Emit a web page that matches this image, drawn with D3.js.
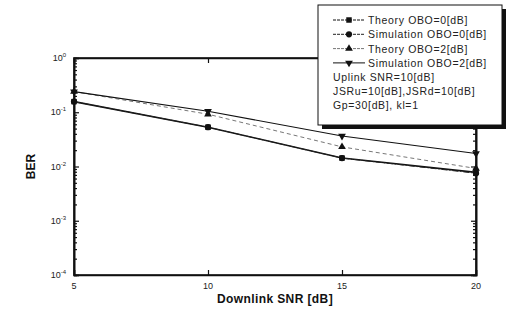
<!DOCTYPE html>
<html>
<head>
<meta charset="utf-8">
<script src="https://cdn.jsdelivr.net/npm/d3@7"></script>
<style>
body{margin:0;background:#fff;}
svg{font-family:"Liberation Sans",Arial,sans-serif;}
</style>
</head>
<body>
<svg id="chart" width="512" height="315"></svg>
<script>
// data
let snr = [5, 10, 15, 20];
let theoryObo0 = [0.157, 0.053, 0.0143, 0.0078];
let simObo0 = [0.157, 0.053, 0.0143, 0.0075];
let theoryObo2 = [0.24, 0.092, 0.023, 0.0092];
let simObo2 = [0.24, 0.104, 0.0366, 0.0174];
let seriesNames = ['Theory OBO=0[dB]', 'Simulation OBO=0[dB]', 'Theory OBO=2[dB]', 'Simulation OBO=2[dB]'];
let notes = ['Uplink SNR=10[dB]', 'JSRu=10[dB],JSRd=10[dB]', 'Gp=30[dB], kl=1'];
let yExps = [0, -1, -2, -3, -4];

let svg = d3.select('#chart');
let margin = {top: 58, right: 36, bottom: 40, left: 74};
let width = 512 - margin.left - margin.right;
let height = 315 - margin.top - margin.bottom;
let g = svg.append('g').attr('transform', 'translate(' + margin.left + ',' + margin.top + ')');

let x = d3.scaleLinear().domain([5, 20]).range([0, width]);
let y = d3.scaleLog().domain([1e-4, 1]).range([height, 0]);

let series = [
	{name: seriesNames[0], vals: theoryObo0, sym: d3.symbolSquare, dash: null, w: 1.6, col: '#111', size: 30},
	{name: seriesNames[1], vals: simObo0, sym: d3.symbolCircle, dash: '6,2,1,2', w: 1, col: '#222', size: 30},
	{name: seriesNames[2], vals: theoryObo2, sym: d3.symbolTriangle, dash: '4,3', w: 1, col: '#777', size: 26},
	{name: seriesNames[3], vals: simObo2, sym: d3.symbolTriangle, dash: null, w: 1.1, col: '#111', size: 26, flip: true}
];

// minor log ticks
let minors = [];
for (let e = -4; e < 0; e++) for (let k = 2; k <= 9; k++) minors.push(k * Math.pow(10, e));

g.append('g').call(d3.axisRight(y).tickValues(yExps.map(e => Math.pow(10, e))).tickSize(5).tickFormat(''));
g.append('g').call(d3.axisRight(y).tickValues(minors).tickSize(3).tickFormat(''));
g.append('g').attr('transform', 'translate(' + width + ',0)')
	.call(d3.axisLeft(y).tickValues(yExps.map(e => Math.pow(10, e))).tickSize(5).tickFormat(''));
g.append('g').attr('transform', 'translate(' + width + ',0)')
	.call(d3.axisLeft(y).tickValues(minors).tickSize(3).tickFormat(''));
g.append('g').attr('transform', 'translate(0,' + height + ')')
	.call(d3.axisTop(x).tickValues(snr).tickSize(5).tickFormat(''));
g.append('g').call(d3.axisBottom(x).tickValues(snr).tickSize(5).tickFormat(''));
g.selectAll('.domain').attr('stroke', '#111').attr('stroke-width', 1.6);
g.selectAll('.tick line').attr('stroke', '#111').attr('stroke-width', 1.2);

// frame
g.append('rect').attr('width', width).attr('height', height)
	.attr('fill', 'none').attr('stroke', '#111').attr('stroke-width', 1.6);

// tick labels
g.selectAll('.xl').data(snr).enter().append('text')
	.attr('x', d => x(d)).attr('y', height + 14)
	.attr('text-anchor', 'middle').style('font-size', '9px').attr('fill', '#222')
	.text(d => d);

let yl = g.selectAll('.yl').data(yExps).enter().append('text')
	.attr('x', -8).attr('y', d => y(Math.pow(10, d)) + 3)
	.attr('text-anchor', 'end').style('font-size', '9px').attr('fill', '#222');
yl.append('tspan').text('10');
yl.append('tspan').attr('dy', -4).style('font-size', '6px').text(d => d);

// axis titles
svg.append('text').attr('x', margin.left + width / 2).attr('y', 303)
	.attr('text-anchor', 'middle').style('font-size', '12px').style('font-weight', 'bold')
	.style('letter-spacing', '0.4px').attr('fill', '#111').text('Downlink SNR [dB]');
svg.append('text').attr('transform', 'translate(35,' + (margin.top + height / 2) + ') rotate(-90)')
	.attr('text-anchor', 'middle').style('font-size', '12px').style('font-weight', 'bold')
	.attr('fill', '#111').text('BER');

// lines + markers
let line = d3.line().x((d, i) => x(snr[i])).y(d => y(d));
series.forEach(s => {
	g.append('path').datum(s.vals).attr('d', line)
		.attr('fill', 'none').attr('stroke', s.col).attr('stroke-width', s.w)
		.attr('stroke-dasharray', s.dash);
	g.selectAll(null).data(s.vals).enter().append('path')
		.attr('d', d3.symbol().type(s.sym).size(s.size))
		.attr('transform', (d, i) => 'translate(' + x(snr[i]) + ',' + y(d) + ')' + (s.flip ? ' rotate(180)' : ''))
		.attr('fill', '#111');
});

// legend
let lg = svg.append('g').attr('transform', 'translate(318,5)');
lg.append('rect').attr('x', 4).attr('y', 4).attr('width', 184).attr('height', 120).attr('fill', '#111');
lg.append('rect').attr('width', 184).attr('height', 120).attr('fill', '#fff').attr('stroke', '#111').attr('stroke-width', 1);
series.forEach((s, i) => {
	let yy = 15 + i * 14.3;
	lg.append('line').attr('x1', 15).attr('x2', 47).attr('y1', yy).attr('y2', yy)
		.attr('stroke', s.col).attr('stroke-width', 1)
		.attr('stroke-dasharray', i === 3 ? null : '3,1');
	lg.append('path').attr('d', d3.symbol().type(s.sym).size(s.size))
		.attr('transform', 'translate(31,' + yy + ')' + (s.flip ? ' rotate(180)' : ''))
		.attr('fill', '#111');
	lg.append('text').attr('x', 50).attr('y', yy + 4).style('font-size', '10.5px')
		.style('letter-spacing', '0.65px').attr('fill', '#222').text(s.name);
});
notes.forEach((t, i) => {
	lg.append('text').attr('x', 15).attr('y', 76 + i * 14).style('font-size', '10.5px')
		.style('letter-spacing', '0.65px').attr('fill', '#222').text(t);
});
</script>
</body>
</html>
